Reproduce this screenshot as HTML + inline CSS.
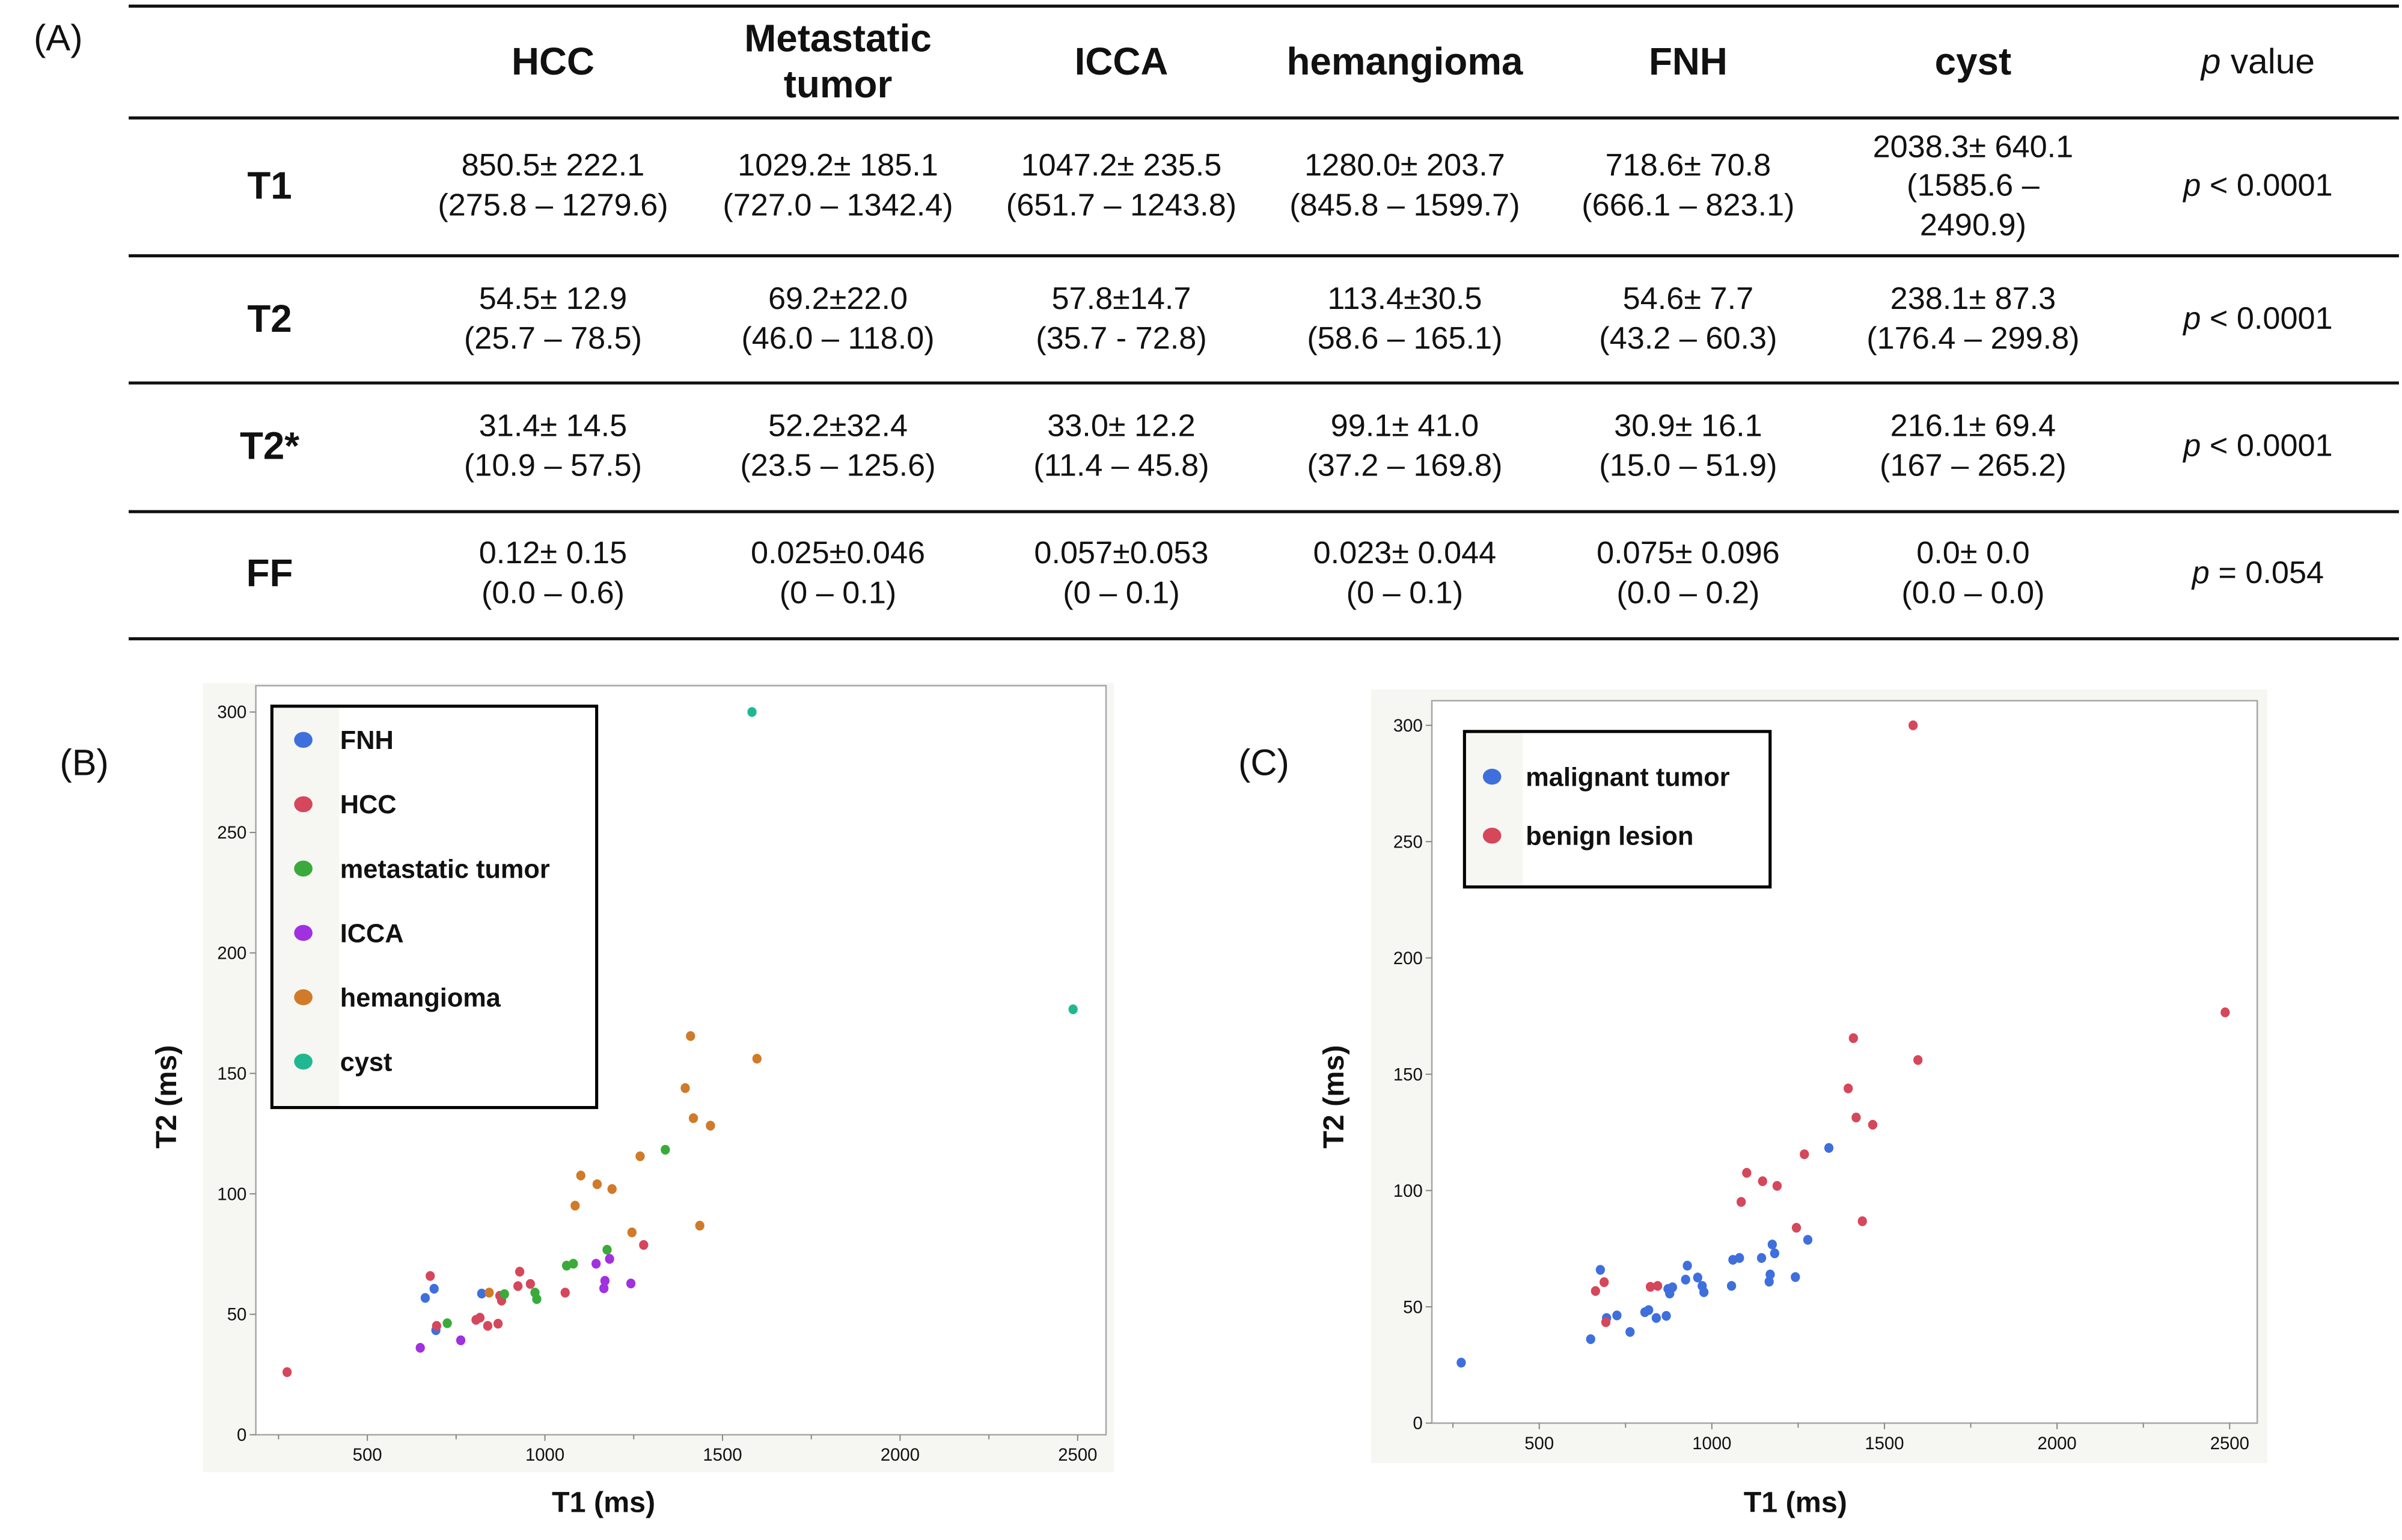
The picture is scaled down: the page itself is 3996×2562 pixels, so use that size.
<!DOCTYPE html>
<html><head><meta charset="utf-8"><style>
html,body{margin:0;padding:0;background:#fff;}
svg{display:block;}
text{font-family:"Liberation Sans",sans-serif;fill:#111;}
</style></head><body>
<svg id="root" xmlns="http://www.w3.org/2000/svg" width="3996" height="2562" viewBox="0 0 1568 1005.3" preserveAspectRatio="none">
<rect x="0" y="0" width="1568" height="1006" fill="#fff"/>
<g id="table"></g>
<g id="chartB"></g>
<g id="chartC"></g>
</svg>
<script>
// ---- Chart data (T1 ms, T2 ms) per lesion type ----
const fnhT1 = [663, 688, 822, 693];
const fnhT2 = [56.8, 60.6, 58.6, 43.4];
const hccT1 = [274, 677, 695, 806, 817, 839, 868, 873, 878, 924, 929, 959, 1057, 1278];
const hccT2 = [26, 65.9, 45.2, 47.7, 48.6, 45.2, 46.1, 57.7, 55.7, 61.7, 67.7, 62.6, 59, 78.8];
const metT1 = [725, 886, 972, 977, 1061, 1080, 1175, 1339];
const metT2 = [46.3, 58.4, 59, 56.3, 70.2, 71, 76.8, 118.3];
const iccaT1 = [649, 763, 1144, 1182, 1169, 1166, 1242];
const iccaT2 = [36.1, 39.2, 71, 73, 63.9, 60.8, 62.8];
const hemT1 = [843, 1085, 1101, 1147, 1189, 1268, 1245, 1395, 1410, 1418, 1466, 1436, 1597];
const hemT2 = [59, 95.1, 107.6, 104, 102, 115.6, 84, 143.9, 165.5, 131.4, 128.3, 86.8, 156.1];
const cystT1 = [1583, 2487];
const cystT2 = [300, 176.6];
const xTickLabels = [500, 1000, 1500, 2000, 2500];
const xMinorTicks = [250, 750, 1250, 1750, 2250];
const yTickLabels = [0, 50, 100, 150, 200, 250, 300];

const NS = "http://www.w3.org/2000/svg";
function mk(parent, tag, attrs, txt) {
  const e = document.createElementNS(NS, tag);
  for (const k in attrs) e.setAttribute(k, attrs[k]);
  if (txt !== undefined) e.textContent = txt;
  parent.appendChild(e);
  return e;
}

// ---------------- TABLE ----------------
const T = document.getElementById('table');
let t;
t = mk(T, 'text', {x: 38, y: 33, 'font-size': 24, 'text-anchor': 'middle'}, '(A)');


[4, 77, 167, 250, 334, 417].forEach((y, i) => {
  const l = mk(T, 'line', {x1: 84, x2: 1566, y1: y, y2: y, stroke: '#111', 'stroke-width': 2});
  
  
});
const colX = [361, 547, 732, 917, 1102, 1288, 1474];
const heads = [['HCC'], ['Metastatic', 'tumor'], ['ICCA'], ['hemangioma'], ['FNH'], ['cyst']];
heads.forEach((h, i) => {
  const ys = h.length === 1 ? [40] : [25, 55];
  h.forEach((s, j) => {
    const e = mk(T, 'text', {x: colX[i], y: ys[j], 'font-size': 25, 'font-weight': 'bold', 'text-anchor': 'middle', 'dominant-baseline': 'central'}, s);
    
    
  });
});
t = mk(T, 'text', {x: 1474, y: 40, 'font-size': 23, 'text-anchor': 'middle', 'dominant-baseline': 'central'});


mk(t, 'tspan', {'font-style': 'italic'}, 'p');
mk(t, 'tspan', {}, ' value');
const rows = [
  {label: 'T1', y: 121, cells: [['850.5± 222.1', '(275.8 – 1279.6)'], ['1029.2± 185.1', '(727.0 – 1342.4)'], ['1047.2± 235.5', '(651.7 – 1243.8)'], ['1280.0± 203.7', '(845.8 – 1599.7)'], ['718.6± 70.8', '(666.1 – 823.1)'], ['2038.3± 640.1', '(1585.6 –', '2490.9)']], p: ['< 0.0001']},
  {label: 'T2', y: 208, cells: [['54.5± 12.9', '(25.7 – 78.5)'], ['69.2±22.0', '(46.0 – 118.0)'], ['57.8±14.7', '(35.7 - 72.8)'], ['113.4±30.5', '(58.6 – 165.1)'], ['54.6± 7.7', '(43.2 – 60.3)'], ['238.1± 87.3', '(176.4 – 299.8)']], p: ['< 0.0001']},
  {label: 'T2*', y: 291, cells: [['31.4± 14.5', '(10.9 – 57.5)'], ['52.2±32.4', '(23.5 – 125.6)'], ['33.0± 12.2', '(11.4 – 45.8)'], ['99.1± 41.0', '(37.2 – 169.8)'], ['30.9± 16.1', '(15.0 – 51.9)'], ['216.1± 69.4', '(167 – 265.2)']], p: ['< 0.0001']},
  {label: 'FF', y: 374, cells: [['0.12± 0.15', '(0.0 – 0.6)'], ['0.025±0.046', '(0 – 0.1)'], ['0.057±0.053', '(0 – 0.1)'], ['0.023± 0.044', '(0 – 0.1)'], ['0.075± 0.096', '(0.0 – 0.2)'], ['0.0± 0.0', '(0.0 – 0.0)']], p: ['= 0.054']}
];
rows.forEach(r => {
  const lab = mk(T, 'text', {x: 176, y: r.y, 'font-size': 25, 'font-weight': 'bold', 'text-anchor': 'middle', 'dominant-baseline': 'central'}, r.label);
  
  
  r.cells.forEach((c, i) => {
    const ys = c.length === 2 ? [r.y - 13, r.y + 13] : [r.y - 25, r.y, r.y + 26];
    c.forEach((s, j) => {
      const e = mk(T, 'text', {x: colX[i], y: ys[j], 'font-size': 20.5, 'text-anchor': 'middle', 'dominant-baseline': 'central'}, s);
      
      
    });
  });
  const p = mk(T, 'text', {x: 1474, y: r.y, 'font-size': 20.5, 'text-anchor': 'middle', 'dominant-baseline': 'central'});
  
  
  mk(p, 'tspan', {'font-style': 'italic'}, 'p');
  mk(p, 'tspan', {}, ' ' + r.p[0]);
});

// ---------------- SCATTER CHARTS ----------------
function drawChart(G, cfg) {
  const xS = v => cfg.x500 + (v - 500) * (cfg.x2500 - cfg.x500) / 2000;
  const yS = v => cfg.y0 - v * (cfg.y0 - cfg.y300) / 300;
  const bg = mk(G, 'rect', {x: cfg.ox1, y: cfg.oy1, width: cfg.ox2 - cfg.ox1, height: cfg.oy2 - cfg.oy1, fill: '#f6f6f2'});
  
  
  const pa = mk(G, 'rect', {x: cfg.px1, y: cfg.py1, width: cfg.px2 - cfg.px1, height: cfg.y0 - cfg.py1, fill: '#fff', stroke: '#a8a8a8', 'stroke-width': 1});
  
  
  const bottom = cfg.y0;
  xTickLabels.forEach(v => {
    const tk = mk(G, 'line', {x1: xS(v), x2: xS(v), y1: bottom, y2: bottom + 4, stroke: '#888', 'stroke-width': 0.8});
    
    
    const lb = mk(G, 'text', {x: xS(v), y: bottom + 17, 'font-size': 11.5, 'text-anchor': 'middle'}, String(v));
    
    
  });
  xMinorTicks.forEach(v => {
    const tk = mk(G, 'line', {x1: xS(v), x2: xS(v), y1: bottom, y2: bottom + 3, stroke: '#888', 'stroke-width': 0.8});
    
    
  });
  yTickLabels.forEach(v => {
    const tk = mk(G, 'line', {x1: cfg.px1 - 4, x2: cfg.px1, y1: yS(v), y2: yS(v), stroke: '#888', 'stroke-width': 0.8});
    
    
    const lb = mk(G, 'text', {x: cfg.px1 - 6, y: yS(v) + 4, 'font-size': 11.5, 'text-anchor': 'end'}, String(v));
    
    
  });
  cfg.series.forEach(s => {
    s.t1.forEach((v, i) => {
      const c = mk(G, 'ellipse', {cx: xS(v), cy: yS(s.t2[i]), rx: 3, ry: 3.2, fill: s.color});
      
      
    });
  });
  const xt = mk(G, 'text', {x: cfg.xtx, y: 987, 'font-size': 19, 'font-weight': 'bold', 'text-anchor': 'middle'}, 'T1 (ms)');
  
  
  const yt = mk(G, 'text', {x: 0, y: 0, 'font-size': 19, 'font-weight': 'bold', 'text-anchor': 'middle', transform: 'translate(' + cfg.ytx + ',716) rotate(-90)'}, 'T2  (ms)');
  
  
  const L = cfg.legend;
  const lg = mk(G, 'g', {});
  
  
  mk(lg, 'rect', {x: L.x1, y: L.y1, width: L.x2 - L.x1, height: L.y2 - L.y1, fill: '#fff'});
  mk(lg, 'rect', {x: L.x1, y: L.y1, width: L.strip, height: L.y2 - L.y1, fill: '#f6f6f2'});
  mk(lg, 'rect', {x: L.x1, y: L.y1, width: L.x2 - L.x1, height: L.y2 - L.y1, fill: 'none', stroke: '#000', 'stroke-width': 2});
  cfg.legendItems.forEach((it, i) => {
    const y = L.ys[i];
    const d = mk(lg, 'ellipse', {cx: L.dotX, cy: y, rx: 6, ry: 5.2, fill: it.color});
    
    
    const tx = mk(lg, 'text', {x: L.textX, y: y + 6, 'font-size': 17, 'font-weight': 'bold'}, it.label);
    
    
  });
  const pl = mk(G, 'text', {x: cfg.plx, y: 506, 'font-size': 24, 'text-anchor': 'middle'}, cfg.panel);
  
  
}

const C = {fnh: '#3f6fdc', hcc: '#d5475a', met: '#3aaa3a', icca: '#a030e0', hem: '#d07a2a', cyst: '#20b890'};
drawChart(document.getElementById('chartB'), {
  ox1: 132.5, ox2: 727, oy1: 446, oy2: 961,
  px1: 167, px2: 722, py1: 447.6,
  x500: 239.8, x2500: 703.5, y0: 936.6, y300: 464.8,
  xtx: 394, ytx: 115, plx: 55, panel: '(B)',
  series: [
    {key: 'fnh', t1: fnhT1, t2: fnhT2, color: C.fnh},
    {key: 'hcc', t1: hccT1, t2: hccT2, color: C.hcc},
    {key: 'metastatic', t1: metT1, t2: metT2, color: C.met},
    {key: 'icca', t1: iccaT1, t2: iccaT2, color: C.icca},
    {key: 'hemangioma', t1: hemT1, t2: hemT2, color: C.hem},
    {key: 'cyst', t1: cystT1, t2: cystT2, color: C.cyst}
  ],
  legend: {x1: 177.5, x2: 389.5, y1: 461, y2: 723, strip: 44, dotX: 198, textX: 222, ys: [483, 525, 567, 609, 651, 693]},
  legendItems: [
    {label: 'FNH', color: C.fnh}, {label: 'HCC', color: C.hcc}, {label: 'metastatic tumor', color: C.met},
    {label: 'ICCA', color: C.icca}, {label: 'hemangioma', color: C.hem}, {label: 'cyst', color: C.cyst}
  ]
});
drawChart(document.getElementById('chartC'), {
  ox1: 895, ox2: 1480, oy1: 450, oy2: 955,
  px1: 934.7, px2: 1473.5, py1: 457.4,
  x500: 1004.8, x2500: 1455.5, y0: 929, y300: 473.5,
  xtx: 1172, ytx: 877, plx: 825, panel: '(C)',
  series: [
    {key: 'malignant', t1: hccT1.concat(metT1, iccaT1), t2: hccT2.concat(metT2, iccaT2), color: C.fnh},
    {key: 'benign', t1: fnhT1.concat(hemT1, cystT1), t2: fnhT2.concat(hemT2, cystT2), color: C.hcc}
  ],
  legend: {x1: 956, x2: 1155.5, y1: 477.5, y2: 579, strip: 38, dotX: 974, textX: 996, ys: [507, 545.5]},
  legendItems: [
    {label: 'malignant tumor', color: C.fnh}, {label: 'benign lesion', color: C.hcc}
  ]
});
</script>
</body></html>
